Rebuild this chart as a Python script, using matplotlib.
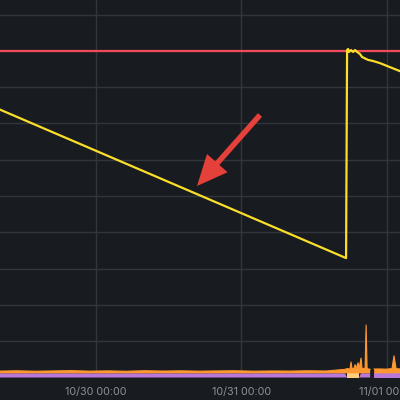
import matplotlib
matplotlib.use('Agg')
import matplotlib.pyplot as plt
import matplotlib.dates as mdates
import numpy as np
import pandas as pd

plt.rcParams['font.family'] = ['Inter', 'DejaVu Sans']

# 电量/百分比曲线（黄色）
level_times = ['2024-10-29 08:15', '2024-10-31 17:15', '2024-10-31 17:25',
               '2024-10-31 17:35', '2024-10-31 17:44', '2024-10-31 18:04',
               '2024-10-31 18:24', '2024-10-31 18:44', '2024-10-31 19:04',
               '2024-10-31 19:33', '2024-10-31 19:53', '2024-10-31 20:52',
               '2024-10-31 21:41', '2024-10-31 22:51', '2024-11-01 00:29',
               '2024-11-01 02:08']
level_values = [73.8, 32.9, 90.2, 90.5, 89.7, 90.2, 89.7, 90.2, 89.7,
                89.1, 88.3, 87.5, 87.2, 86.6, 85.5, 84.4]

threshold = 90

# 底部堆叠面积（紫色 + 橙色）
load_times = ['2024-10-29 08:15', '2024-10-29 11:00', '2024-10-29 14:00',
              '2024-10-29 17:00', '2024-10-29 20:00', '2024-10-29 23:00',
              '2024-10-30 02:00', '2024-10-30 05:00', '2024-10-30 08:00',
              '2024-10-30 11:00', '2024-10-30 14:00', '2024-10-30 17:00',
              '2024-10-30 20:00', '2024-10-30 23:00', '2024-10-31 02:00',
              '2024-10-31 05:00', '2024-10-31 08:00', '2024-10-31 11:00',
              '2024-10-31 14:00', '2024-10-31 17:05', '2024-10-31 17:25',
              '2024-10-31 17:54', '2024-10-31 18:04', '2024-10-31 18:14',
              '2024-10-31 18:34', '2024-10-31 18:44', '2024-10-31 18:54',
              '2024-10-31 19:14', '2024-10-31 19:23', '2024-10-31 19:43',
              '2024-10-31 19:53', '2024-10-31 20:23', '2024-10-31 20:33',
              '2024-10-31 20:43', '2024-10-31 21:13', '2024-10-31 21:28',
              '2024-10-31 21:38', '2024-10-31 21:53', '2024-10-31 22:51',
              '2024-10-31 23:50', '2024-11-01 00:49', '2024-11-01 01:09',
              '2024-11-01 01:29', '2024-11-01 02:08']
base_values = [1.15, 1.15, 1.15, 1.15, 1.15, 1.15, 1.15, 1.15, 1.15, 1.15,
               1.15, 1.15, 1.15, 1.15, 1.15, 1.15, 1.15, 1.15, 1.15, 1.15,
               0.0, 0.0, 0.0, 0.0, 0.0, 0.0, 0.0, 0.0, 0.0, 1.15,
               1.15, 1.15, 1.15, 1.15, 1.15, np.nan, np.nan, 1.15, 1.15, 1.15,
               1.15, 1.15, 1.15, 1.15]
pale_values = [0.0, 0.0, 0.0, 0.0, 0.0, 0.0, 0.0, 0.0, 0.0, 0.0,
               0.0, 0.0, 0.0, 0.0, 0.0, 0.0, 0.0, 0.0, 0.0, 0.0,
               1.15, 1.15, 1.15, 1.15, 1.15, 1.15, 1.15, 1.15, 1.15, 0.0,
               0.0, 0.0, 0.0, 0.0, 0.0, np.nan, np.nan, 0.0, 0.0, 0.0,
               0.0, 0.0, 0.0, 0.0]
load_values = [0.62, 0.70, 0.58, 0.66, 0.74, 0.60, 0.68, 0.57, 0.72, 0.63,
               0.69, 0.60, 0.66, 0.71, 0.59, 0.65, 0.62, 0.70, 0.64, 1.1,
               1.3, 1.2, 3.1, 1.3, 1.4, 2.4, 1.3, 2.9, 1.2, 4.2,
               1.3, 1.4, 13.3, 1.3, 1.1, np.nan, np.nan, 1.2, 1.2, 1.15,
               1.3, 4.8, 1.3, 1.2]

x_range = ['2024-10-29 08:15', '2024-11-01 02:08']
tick_times = ['2024-10-30 00:00', '2024-10-31 00:00', '2024-11-01 00:00']

BG = '#181b1f'
GRID = '#32353a'

fig = plt.figure(figsize=(4, 4), dpi=100, facecolor=BG)
ax = fig.add_axes([0, 22.5 / 400, 1, 377.5 / 400])
ax.set_facecolor(BG)

lt = pd.to_datetime(level_times)
bt = pd.to_datetime(load_times)
base = np.array(base_values)
pale = np.array(pale_values)
load = np.array(load_values)

# 堆叠面积
ax.fill_between(bt, 0, base, color='#b877d9', lw=0, zorder=2)
ax.fill_between(bt, 0, pale, where=pale > 0, color='#ffcb7d', lw=0, zorder=2)
bottom = base + pale
ax.fill_between(bt, bottom, bottom + load, color='#ff9830', lw=0, zorder=2)
ax.plot(bt, bottom + load, color='#ff9830', lw=0.8, zorder=2)

# 阈值线
ax.axhline(threshold, color='#f2495c', lw=1.6, zorder=3)

# 主曲线
ax.plot(lt, level_values, color='#fade2a', lw=1.6, zorder=4)

ax.set_xlim(pd.to_datetime(x_range[0]), pd.to_datetime(x_range[1]))
ax.set_ylim(0, 104)
ax.set_yticks(np.arange(0, 101, 10))
ax.set_xticks(pd.to_datetime(tick_times))
ax.xaxis.set_major_formatter(mdates.DateFormatter('%m/%d %H:%M'))
ax.grid(True, color=GRID, lw=1, zorder=0)
ax.tick_params(axis='x', length=0, pad=7, labelsize=7.8, labelcolor='#8f9096')
ax.tick_params(axis='y', length=0, labelleft=False)
for s in ax.spines.values():
    s.set_visible(False)

# 红色箭头标注
ax.annotate('', xy=(197 / 400, 1 - 186 / 400), xytext=(260 / 400, 1 - 115 / 400),
            xycoords='figure fraction', textcoords='figure fraction',
            arrowprops=dict(arrowstyle='simple,head_length=1.0,head_width=0.9,tail_width=0.18',
                            mutation_scale=22, color='#e5403a', lw=0,
                            shrinkA=0, shrinkB=0),
            zorder=5)

fig.savefig('out.png', dpi=100, facecolor=BG)
